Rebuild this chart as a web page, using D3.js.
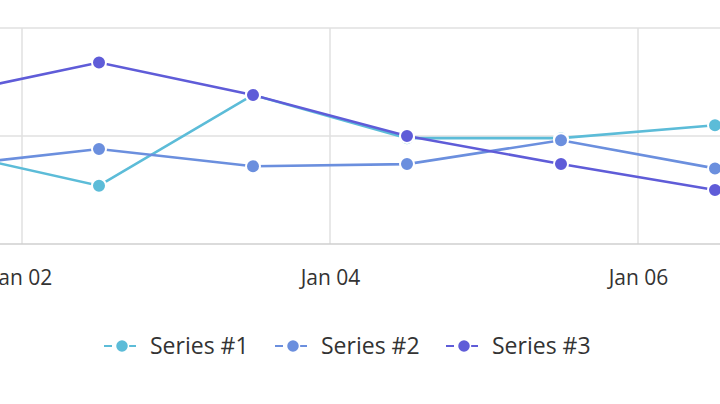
<!DOCTYPE html>
<html><head><meta charset="utf-8">
<script src="https://cdn.jsdelivr.net/npm/d3@7"></script>
<style>body{margin:0;background:#fff}svg{display:block;font-family:"Open Sans","Noto Sans",sans-serif}</style>
</head><body><svg width="720" height="404"></svg>
<script>
let width = 720, height = 404;
let svg = d3.select("svg");

// data points sit at noon of each day
let dates = ["2024-01-01T12:00", "2024-01-02T12:00", "2024-01-03T12:00", "2024-01-04T12:00", "2024-01-05T12:00", "2024-01-06T12:00"];
let series1 = [43, 27, 69, 49, 49, 55];
let series2 = [36, 44, 36, 37, 48, 35];
let series3 = [69, 84, 69, 50, 37, 25];
let seriesNames = ["Series #1", "Series #2", "Series #3"];
let colors = ["#5cbcd8", "#6b8fde", "#5f5cd8"];
let tickDates = ["2024-01-02", "2024-01-04", "2024-01-06"];

let parse = d3.timeParse("%Y-%m-%dT%H:%M");
let parseDay = d3.timeParse("%Y-%m-%d");

let x = d3.scaleTime()
    .domain([parseDay("2024-01-01"), parseDay("2024-01-07")])
    .range([22 - 154, 22 + 5 * 154]);
let y = d3.scaleLinear().domain([0, 100]).range([244, 28]);

// grid
svg.append("g").selectAll("line")
    .data([50, 100]).enter().append("line")
    .attr("x1", 0).attr("x2", width)
    .attr("y1", d => y(d)).attr("y2", d => y(d))
    .attr("stroke", "#e0e0e0").attr("stroke-width", 1.5);
svg.append("g").selectAll("line")
    .data(tickDates.map(parseDay)).enter().append("line")
    .attr("x1", d => x(d)).attr("x2", d => x(d))
    .attr("y1", y(100)).attr("y2", y(0))
    .attr("stroke", "#e0e0e0").attr("stroke-width", 1.5);

// x axis
let xAxis = svg.append("g")
    .attr("transform", "translate(0," + y(0) + ")")
    .call(d3.axisBottom(x).tickValues(tickDates.map(parseDay)).tickFormat(d3.timeFormat("%b %d")).tickSize(0).tickPadding(26));
xAxis.select(".domain").attr("stroke", "#cfcfcf").attr("stroke-width", 1.5).attr("d", "M0,0H" + width);
xAxis.selectAll("text").attr("font-size", 21).attr("fill", "#333").attr("font-family", "Open Sans, Noto Sans, sans-serif");

let allSeries = [series1, series2, series3];
let line = d3.line().x((d, i) => x(parse(dates[i]))).y(d => y(d));

allSeries.forEach((s, k) => {
    svg.append("path")
        .datum(s)
        .attr("d", line)
        .attr("fill", "none")
        .attr("stroke", colors[k])
        .attr("stroke-width", 2.6);
});
allSeries.forEach((s, k) => {
    svg.append("g").selectAll("circle")
        .data(s).enter().append("circle")
        .attr("cx", (d, i) => x(parse(dates[i])))
        .attr("cy", d => y(d))
        .attr("r", 7)
        .attr("fill", colors[k])
        .attr("stroke", "#fff")
        .attr("stroke-width", 2);
});

// legend
let legend = svg.append("g").attr("transform", "translate(0,346)");
seriesNames.forEach((name, k) => {
    let lx = 104 + k * 171;
    let g = legend.append("g").attr("transform", "translate(" + lx + ",0)");
    g.append("line").attr("x1", 0).attr("x2", 36).attr("y1", 0).attr("y2", 0)
        .attr("stroke", colors[k]).attr("stroke-width", 2.2).attr("stroke-dasharray", "8,4");
    g.append("circle").attr("cx", 18).attr("cy", 0).attr("r", 6.5)
        .attr("fill", colors[k]).attr("stroke", "#fff").attr("stroke-width", 1.5);
    g.append("text").attr("x", 46).attr("y", 8)
        .attr("font-size", 23).attr("fill", "#333").text(name);
});
</script></body></html>
